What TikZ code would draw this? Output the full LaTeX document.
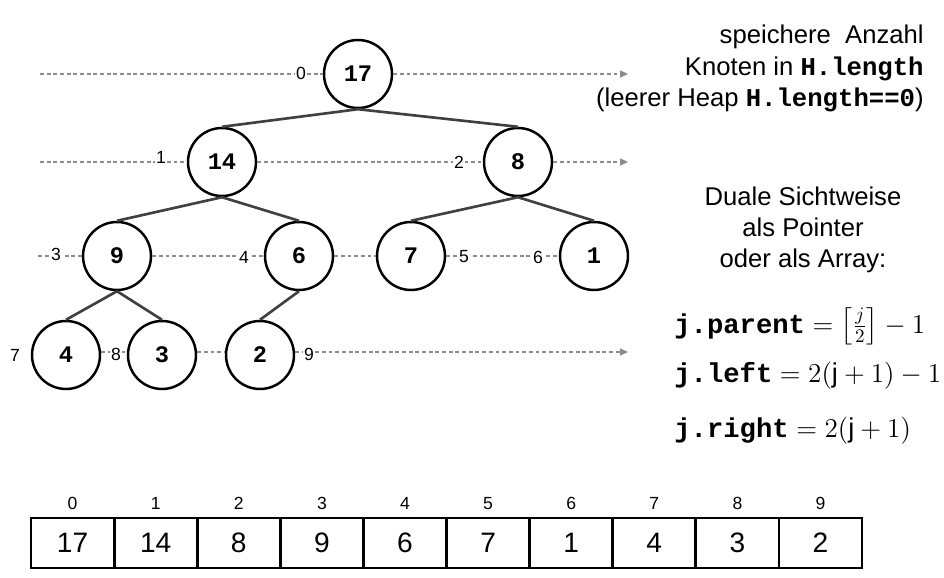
\RequirePackage{fix-cm}
\documentclass[tikz,border=0pt]{standalone}
\usepackage{amsmath}
\usepackage{graphicx}
\usepackage{fontspec}
\setmainfont{Liberation Sans}
\newfontfamily\codefont{Liberation Mono}
\usetikzlibrary{arrows.meta,positioning}
\newcommand{\code}[1]{{\codefont\bfseries #1}}
\newcommand{\klauf}{\mathopen{\vcenter{\hbox{\scalebox{1}[0.82]{$\Bigl[$}}}}}
\newcommand{\klzu}{\mathclose{\vcenter{\hbox{\scalebox{1}[0.82]{$\Bigr]$}}}}}

\tikzset{
  knoten/.style={circle,draw=black,line width=1.4pt,fill=white,minimum size=1.36cm,inner sep=0pt,font=\codefont\bfseries\fontsize{13.5}{13.5}\selectfont},
  kante/.style={draw=black!75,line width=1.5pt},
  ebene/.style={draw=black!45,line width=0.8pt,dash pattern=on 2.2pt off 1.6pt},
  pfeil/.style={ebene,-{Triangle[length=4.5pt,width=4pt]}},
  nummer/.style={fill=white,inner sep=0.6pt,font=\fontsize{10}{10}\selectfont},
  zelle/.style={draw,line width=1.6pt,minimum width=1.662cm,minimum height=1cm,inner sep=0pt,font=\fontsize{16}{16}\selectfont},
  index/.style={font=\fontsize{10}{10}\selectfont},
  textblock/.style={inner sep=0pt,font=\fontsize{14.6}{17.8}\selectfont},
  formel/.style={inner sep=0pt,font=\fontsize{15.5}{18}\selectfont}
}

\begin{document}
\begin{tikzpicture}[x=0.02cm,y=-0.02cm]
\useasboundingbox (0,0) rectangle (944,578);

% Heap als Baum
\node[knoten] (k0) at (358,74) {17};
\node[knoten] (k1) at (222,162) {14};
\node[knoten] (k2) at (518,162) {8};
\node[knoten] (k3) at (117,256) {9};
\node[knoten] (k4) at (299,256) {6};
\node[knoten] (k5) at (411,256) {7};
\node[knoten] (k6) at (594,256) {1};
\node[knoten] (k7) at (66,355) {4};
\node[knoten] (k8) at (162,355) {3};
\node[knoten] (k9) at (260,355) {2};

\draw[kante] (k0.south) -- (k1.north);
\draw[kante] (k0.south) -- (k2.north);
\draw[kante] (k1.south) -- (k3.north);
\draw[kante] (k1.south) -- (k4.north);
\draw[kante] (k2.south) -- (k5.north);
\draw[kante] (k2.south) -- (k6.north);
\draw[kante] (k3.south) -- (k7.north);
\draw[kante] (k3.south) -- (k8.north);
\draw[kante] (k4.south) -- (k9.north);

% Ebenen
\coordinate (s0) at (40,74);  \coordinate (e0) at (628,74);
\coordinate (s1) at (40,162); \coordinate (e1) at (628,162);
\coordinate (s2) at (38,256);
\coordinate (e3) at (628,352);
\draw[ebene] (s0) -- (k0);
\draw[pfeil] (k0) -- (e0);
\draw[ebene] (s1) -- (k1);
\draw[ebene] (k1) -- (k2);
\draw[pfeil] (k2) -- (e1);
\draw[ebene] (s2) -- (k3);
\draw[ebene] (k3) -- (k4);
\draw[ebene] (k4) -- (k5);
\draw[ebene] (k5) -- (k6);
\draw[ebene] (k7.east |- e3) -- (k8.west |- e3);
\draw[ebene] (k8.east |- e3) -- (k9.west |- e3);
\draw[pfeil] (k9.east |- e3) -- (e3);

\node[nummer] (i0) at (301,73) {0};
\node[nummer] (i1) at (161,157) {1};
\node[nummer] (i2) at (459,162) {2};
\node[nummer] (i3) at (56,254) {3};
\node[nummer] (i4) at (244,257) {4};
\node[nummer] (i5) at (464,257) {5};
\node[nummer] (i6) at (538,257) {6};
\node[nummer] (i7) at (15,355) {7};
\node[nummer] (i8) at (116,354) {8};
\node[nummer] (i9) at (309,354) {9};

% Texte rechts
\node[textblock,anchor=north east,align=right] (info) at (924,25)
  {speichere\ \ Anzahl\\Knoten in \code{H.length}\\(leerer Heap \code{H.length==0})};
\node[textblock,align=center] (dual) at (803,230)
  {Duale Sichtweise\\als Pointer\\oder als Array:};
\node[formel,anchor=base west] (fp) at (674,333) {\code{j.parent}${}=\klauf\tfrac{j}{2}\klzu-1$};
\node[formel,anchor=base west] (fl) at (674,382) {\code{j.left}${}=2(\mathrm{j}+1)-1$};
\node[formel,anchor=base west] (fr) at (674,437) {\code{j.right}${}=2(\mathrm{j}+1)$};

% Heap als Array
\node[zelle] (a0) at (72.6,543) {17};
\node[zelle] (a1) at (155.7,543) {14};
\node[zelle] (a2) at (238.8,543) {8};
\node[zelle] (a3) at (321.9,543) {9};
\node[zelle] (a4) at (405.0,543) {6};
\node[zelle] (a5) at (488.1,543) {7};
\node[zelle] (a6) at (571.2,543) {1};
\node[zelle] (a7) at (654.3,543) {4};
\node[zelle] (a8) at (737.4,543) {3};
\node[zelle] (a9) at (820.5,543) {2};
\node[index,above=0.5pt of a0] {0};
\node[index,above=0.5pt of a1] {1};
\node[index,above=0.5pt of a2] {2};
\node[index,above=0.5pt of a3] {3};
\node[index,above=0.5pt of a4] {4};
\node[index,above=0.5pt of a5] {5};
\node[index,above=0.5pt of a6] {6};
\node[index,above=0.5pt of a7] {7};
\node[index,above=0.5pt of a8] {8};
\node[index,above=0.5pt of a9] {9};

\end{tikzpicture}
\end{document}
